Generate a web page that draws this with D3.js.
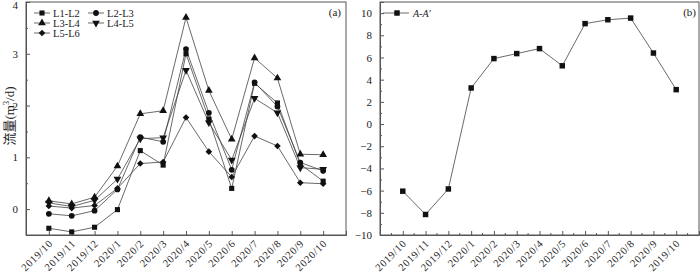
<!DOCTYPE html>
<html><head><meta charset="utf-8">
<script src="https://cdn.jsdelivr.net/npm/d3@7"></script>
<style>
body{margin:0;background:#fff;}
svg{display:block;}
svg text{font-family:"Liberation Serif","Times New Roman","DejaVu Serif",serif !important;fill:#222;}
svg text tspan.cjk{font-family:"Noto Sans CJK SC",sans-serif !important;}
</style></head>
<body><svg id="c" width="700" height="273"></svg>
<script>
const months = ["2019/10","2019/11","2019/12","2020/1","2020/2","2020/3","2020/4","2020/5","2020/6","2020/7","2020/8","2020/9","2020/10"];
const tickLabelsA = ["2019/10","2019/11","2019/12","2020/1","2020/2","2020/3","2020/4","2020/5","2020/6","2020/7","2020/8","2020/9","2020/10"];
const tickLabelsB = ["2019/10","2019/11","2019/12","2020/1","2020/2","2020/3","2020/4","2020/5","2020/6","2020/7","2020/8","2020/9","2019/10"];
const seriesNames = ["L1-L2","L2-L3","L3-L4","L4-L5","L5-L6"];
const L1L2 = [-0.37,-0.44,-0.35,-0.01,1.13,0.85,3.00,1.74,0.40,2.43,2.05,0.87,0.54];
const L2L3 = [-0.09,-0.13,-0.03,0.38,1.39,1.30,3.09,1.86,0.76,2.45,1.98,0.90,0.74];
const L3L4 = [0.16,0.10,0.23,0.83,1.84,1.90,3.70,2.29,1.35,2.92,2.53,1.06,1.05];
const L4L5 = [0.12,0.05,0.17,0.58,1.36,1.38,2.68,1.67,0.95,2.14,1.86,0.80,0.77];
const L5L6 = [0.06,0.02,0.07,0.40,0.88,0.91,1.77,1.11,0.62,1.41,1.22,0.51,0.49];
const AA = [-6.05,-8.15,-5.85,3.25,5.9,6.35,6.8,5.25,9.05,9.4,9.55,6.4,3.1];
const yTicksA = [0,1,2,3,4];
const yTicksB = [-10,-8,-6,-4,-2,0,2,4,6,8,10];

const svg = d3.select("#c");
const seriesVals = [L1L2,L2L3,L3L4,L4L5,L5L6];
const symbols = [
  {t:d3.symbolSquare,s:26,r:0},
  {t:d3.symbolCircle,s:26,r:0},
  {t:d3.symbolTriangle,s:26,r:0},
  {t:d3.symbolTriangle,s:26,r:180},
  {t:d3.symbolSquare,s:22,r:45}
];
const lineCol = "#444", axisCol = "#555";

function panel(x0,x1,yDomain,ticks,minorTicks,labels,minorX){
  const top=2,bottom=235;
  const x = d3.scalePoint().domain(months).range([x0,x1]).padding(1);
  const y = d3.scaleLinear().domain(yDomain).range([bottom,top]);
  const g = svg.append("g");
  g.append("rect").attr("x",x0).attr("y",top).attr("width",x1-x0).attr("height",bottom-top)
   .attr("fill","none").attr("stroke",axisCol).attr("stroke-width",1);
  const ya = g.append("g").attr("transform",`translate(${x0},0)`)
    .call(d3.axisLeft(y).tickValues(ticks).tickSize(-4).tickPadding(8).tickFormat(d3.format("d")));
  ya.attr("font-family",null);
  ya.select(".domain").attr("stroke",axisCol);
  ya.selectAll(".tick line").attr("stroke",axisCol);
  ya.selectAll("text").style("font-size","11px").attr("fill","#222")
    .attr("dy",d=>y(d)<6?"0.62em":"0.32em");
  const ym = g.append("g").attr("transform",`translate(${x0},0)`)
    .call(d3.axisLeft(y).tickValues(minorTicks).tickSize(-2).tickFormat(""));
  ym.select(".domain").remove();
  ym.selectAll(".tick line").attr("stroke",axisCol);
  const xa = g.append("g").attr("transform",`translate(0,${bottom})`)
    .call(d3.axisBottom(x).tickSize(-4).tickFormat((d,i)=>labels[i]));
  xa.attr("font-family",null);
  xa.select(".domain").attr("stroke",axisCol);
  xa.selectAll(".tick line").attr("stroke",axisCol);
  xa.selectAll("text").style("font-size","10.5px")
    .style("letter-spacing","0.7px")
    .attr("text-anchor","end").attr("dy",null).attr("y",0)
    .attr("transform","translate(4,9) rotate(-45)").attr("fill","#222");
  if(minorX){
    const step=x.step();
    const mids=months.map(m=>x(m)+step/2).concat([x(months[0])-step/2]);
    g.selectAll(".mx").data(mids).join("line")
      .attr("x1",d=>d).attr("x2",d=>d).attr("y1",bottom).attr("y2",bottom-2)
      .attr("stroke",axisCol);
  }
  return {g,x,y};
}

// Panel A
const A = panel(26,346,[-0.5,4],yTicksA,[-0.5,0.5,1.5,2.5,3.5],tickLabelsA,false);
seriesVals.forEach((vals,k)=>{
  const line = d3.line().x((d,i)=>A.x(months[i])).y(d=>A.y(d));
  A.g.append("path").datum(vals).attr("d",line).attr("fill","none").attr("stroke",lineCol).attr("stroke-width",0.8);
});
seriesVals.forEach((vals,k)=>{
  const sym=symbols[k];
  A.g.selectAll(".m"+k).data(vals).join("path")
    .attr("d",d3.symbol().type(sym.t).size(sym.s))
    .attr("transform",(d,i)=>`translate(${A.x(months[i])},${A.y(d)}) rotate(${sym.r})`)
    .attr("fill","#111");
});
const legPos=[[34,13],[88,13],[34,23],[88,23],[34,33]];
seriesNames.forEach((n,k)=>{
  const [lx,ly]=legPos[k];
  const sym=symbols[k];
  A.g.append("line").attr("x1",lx).attr("x2",lx+16).attr("y1",ly).attr("y2",ly).attr("stroke",lineCol).attr("stroke-width",0.8);
  A.g.append("path").attr("d",d3.symbol().type(sym.t).size(sym.s)()).attr("transform",`translate(${lx+8},${ly}) rotate(${sym.r})`).attr("fill","#111");
  A.g.append("text").attr("x",lx+19).attr("y",ly+3.5).style("font-size","10.5px").text(n);
});
A.g.append("text").attr("x",341).attr("y",16).attr("text-anchor","end").style("font-size","11px").text("(a)");
const yl = svg.append("text").attr("transform","translate(14,116) rotate(-90)").attr("text-anchor","middle").style("font-size","13px");
yl.append("tspan").attr("class","cjk").style("font-size","13px").text("流量");
yl.append("tspan").text("(m");
yl.append("tspan").attr("dy",-5).style("font-size","8.5px").text("3");
yl.append("tspan").attr("dy",5).text("/d)");

// Panel B
const B = panel(380,699,[-10,11],yTicksB,d3.range(-9,11,2),tickLabelsB,true);
const lineB = d3.line().x((d,i)=>B.x(months[i])).y(d=>B.y(d));
B.g.append("path").datum(AA).attr("d",lineB).attr("fill","none").attr("stroke",lineCol).attr("stroke-width",0.8);
B.g.selectAll(".mb").data(AA).join("path")
  .attr("d",d3.symbol().type(d3.symbolSquare).size(30))
  .attr("transform",(d,i)=>`translate(${B.x(months[i])},${B.y(d)})`).attr("fill","#111");
B.g.append("line").attr("x1",383).attr("x2",409).attr("y1",13).attr("y2",13).attr("stroke",lineCol).attr("stroke-width",0.8);
B.g.append("path").attr("d",d3.symbol().type(d3.symbolSquare).size(30)()).attr("transform","translate(397,13)").attr("fill","#111");
B.g.append("text").attr("x",413).attr("y",16.5).style("font-size","10px").style("font-style","italic").text("A-A'");
B.g.append("text").attr("x",696).attr("y",16).attr("text-anchor","end").style("font-size","11px").text("(b)");
</script></body></html>
